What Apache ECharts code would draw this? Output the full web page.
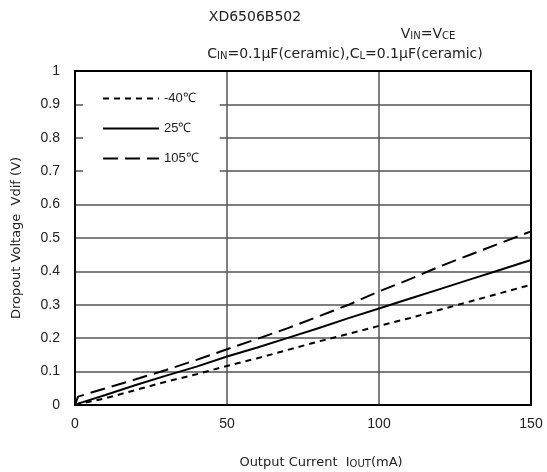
<!DOCTYPE html>
<html>
<head>
<meta charset="utf-8">
<script src="https://cdn.jsdelivr.net/npm/echarts@6/dist/echarts.min.js"></script>
<style>html,body{margin:0;padding:0;background:#fff}#c{width:547px;height:472px}</style>
</head>
<body>
<div id="c"></div>
<script>
var currentMA = [0, 1, 10, 20, 30, 40, 50, 60, 70, 80, 90, 100, 110, 120, 130, 140, 150];
var vMinus40 = [0, 0.003, 0.02, 0.045, 0.07, 0.092, 0.117, 0.14, 0.165, 0.19, 0.213, 0.237, 0.26, 0.285, 0.31, 0.335, 0.36];
var v25 = [0, 0.004, 0.03, 0.06, 0.088, 0.115, 0.145, 0.172, 0.201, 0.23, 0.26, 0.289, 0.318, 0.347, 0.376, 0.405, 0.434];
var v105 = [0, 0.025, 0.05, 0.077, 0.105, 0.135, 0.167, 0.198, 0.23, 0.265, 0.3, 0.34, 0.376, 0.415, 0.45, 0.485, 0.52];
var seriesNames = ['-40℃', '25℃', '105℃'];
var xTicks = [0, 50, 100, 150];
var yTicks = [0, 0.1, 0.2, 0.3, 0.4, 0.5, 0.6, 0.7, 0.8, 0.9, 1];

function pairs(xs, ys) { return xs.map(function (x, i) { return [x, ys[i]]; }); }

var FONT = 'Liberation Sans';
var TFONT = 'DejaVu Sans';
var TXT = '#222';
function richSet(big, small) {
  return {
    a: { fontSize: big, color: TXT, fontFamily: TFONT, verticalAlign: 'bottom', lineHeight: big + 2 },
    s: { fontSize: small, color: TXT, fontFamily: TFONT, verticalAlign: 'bottom', lineHeight: small + 3 }
  };
}
var chart = echarts.init(document.getElementById('c'));
chart.setOption({
  animation: false,
  backgroundColor: '#fff',
  textStyle: { fontFamily: FONT },
  title: [
    { text: 'XD6506B502', left: 255, top: 10, padding: 0, textAlign: 'center',
      textStyle: { fontSize: 14, fontWeight: 'normal', color: TXT, fontFamily: TFONT } },
    { text: '{a|V}{s|IN}{a|=V}{s|CE}', left: 428, top: 25, padding: 0, textAlign: 'center',
      textStyle: { fontWeight: 'normal', color: TXT, fontFamily: TFONT, rich: richSet(14, 10) } },
    { text: '{a|C}{s|IN}{a|=0.1μF(ceramic),C}{s|L}{a|=0.1μF(ceramic)}', left: 345, top: 45, padding: 0, textAlign: 'center',
      textStyle: { fontWeight: 'normal', color: TXT, fontFamily: TFONT, rich: richSet(14, 10) } },
    { text: '{a|Output Current  I}{s|OUT}{a|(mA)}', left: 321, top: 454, padding: 0, textAlign: 'center',
      textStyle: { fontWeight: 'normal', color: TXT, fontFamily: TFONT, rich: richSet(13, 10) } }
  ],
  grid: { left: 75, right: 16, top: 71, bottom: 67, containLabel: false },
  legend: {
    orient: 'vertical', left: 83, top: 75,
    padding: [17, 21, 12, 19],
    backgroundColor: '#fff',
    itemWidth: 56, itemHeight: 14, itemGap: 17,
    itemStyle: { opacity: 0 },
    textStyle: { fontSize: 13, color: TXT, fontFamily: FONT },
    data: seriesNames
  },
  xAxis: {
    type: 'value', min: 0, max: 150, interval: 50,
    axisLine: { show: true, onZero: false, lineStyle: { color: '#000', width: 2 } },
    axisTick: { show: false },
    axisLabel: { fontSize: 14, color: TXT, margin: 12, fontFamily: FONT,
      formatter: function (v) { return xTicks.indexOf(v) >= 0 ? String(v) : ''; } },
    splitLine: { show: true, lineStyle: { color: '#555', width: 1.5 } }
  },
  yAxis: {
    type: 'value', min: 0, max: 1, interval: 0.1,
    name: 'Dropout Voltage  Vdif (V)', nameLocation: 'middle', nameGap: 52,
    nameTextStyle: { fontSize: 13, color: TXT, fontFamily: TFONT },
    axisLine: { show: true, onZero: false, lineStyle: { color: '#000', width: 2 } },
    axisTick: { show: false },
    axisLabel: { fontSize: 14, color: TXT, margin: 15, fontFamily: FONT,
      formatter: function (v) { var r = Math.round(v * 10) / 10; return yTicks.indexOf(r) >= 0 ? String(r) : ''; } },
    splitLine: { show: true, lineStyle: { color: '#555', width: 1.5 } }
  },
  series: [
    { name: seriesNames[0], type: 'line', data: pairs(currentMA, vMinus40), symbol: 'none',
      lineStyle: { color: '#000', width: 2, type: [6, 5] }, itemStyle: { color: '#000' } },
    { name: seriesNames[1], type: 'line', data: pairs(currentMA, v25), symbol: 'none',
      lineStyle: { color: '#000', width: 2, type: 'solid' }, itemStyle: { color: '#000' } },
    { name: seriesNames[2], type: 'line', data: pairs(currentMA, v105), symbol: 'none',
      lineStyle: { color: '#000', width: 2, type: [15, 7] }, itemStyle: { color: '#000' } }
  ],
  graphic: [
    { type: 'rect', shape: { x: 75, y: 71, width: 456, height: 334 }, silent: true, z: 100,
      style: { fill: 'none', stroke: '#000', lineWidth: 2 } }
  ]
});
</script>
</body>
</html>
